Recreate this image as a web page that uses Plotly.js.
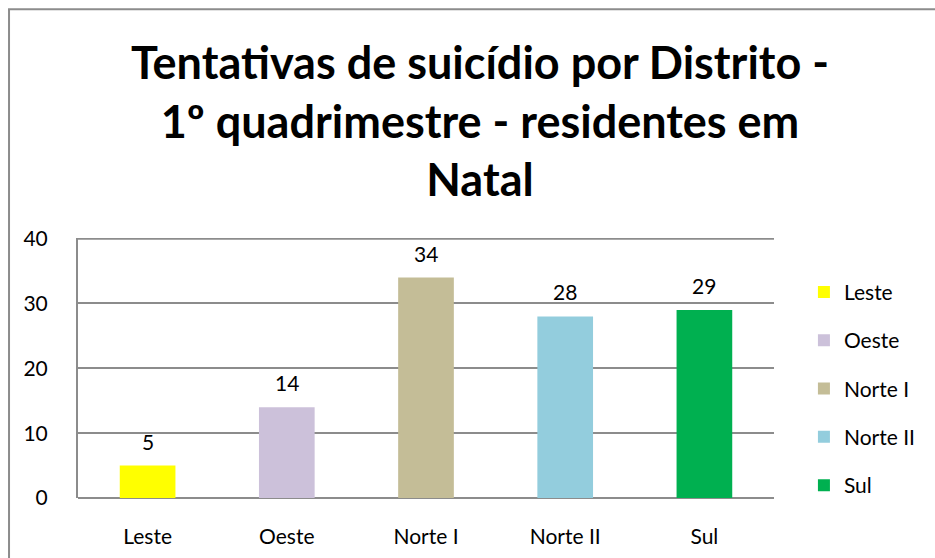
<!DOCTYPE html>
<html>
<head>
<meta charset="utf-8">
<script src="https://cdn.plot.ly/plotly-3.0.1.min.js"></script>
<style>
  body { margin: 0; background: #fff; }
  #chart { width: 935px; height: 558px; }
</style>
</head>
<body>
<div id="chart"></div>
<script>
var distritos = ["Leste", "Oeste", "Norte I", "Norte II", "Sul"];
var tentativas = [5, 14, 34, 28, 29];
var cores = ["#FFFF00", "#CCC1DA", "#C4BD97", "#93CDDD", "#00B050"];
var yTicks = [0, 10, 20, 30, 40];

var fonte = "Lato, 'Open Sans', sans-serif";
var titulo = "<b>Tentativas de suicídio por Distrito -<br>1º quadrimestre - residentes em<br>Natal</b>";

// uma trace por distrito para ter a legenda igual ao original
var traces = distritos.map(function (d, i) {
  return {
    type: "bar",
    x: [d],
    y: [tentativas[i]],
    name: d,
    legendgroup: d,
    width: 0.4,
    marker: { color: cores[i] },
    hoverinfo: "x+y"
  };
});

// rótulos de dados acima das barras
var rotulos = distritos.map(function (d, i) {
  return {
    x: d,
    y: tentativas[i],
    text: String(tentativas[i]),
    showarrow: false,
    yanchor: "bottom",
    yshift: 10,
    font: { family: fonte, size: 21, color: "#000" }
  };
});

// titulo como anotação (posição mais controlada que layout.title)
rotulos.push({
  xref: "paper",
  yref: "paper",
  x: 0.577,
  y: 1.79,
  xanchor: "center",
  yanchor: "top",
  showarrow: false,
  text: titulo,
  font: { family: fonte, size: 45, color: "#000" }
});

var layout = {
  width: 935,
  height: 558,
  margin: { l: 78, r: 161, t: 238, b: 60 },
  paper_bgcolor: "#fff",
  plot_bgcolor: "#fff",
  font: { family: fonte, size: 21, color: "#000" },
  barmode: "relative",
  showlegend: true,
  legend: {
    x: 1.043,
    xanchor: "left",
    y: 0.42,
    yanchor: "middle",
    tracegroupgap: 18,
    font: { family: fonte, size: 21, color: "#000" }
  },
  xaxis: {
    type: "category",
    categoryarray: distritos,
    showgrid: false,
    showline: false,
    ticks: "",
    ticklabelstandoff: 24,
    tickfont: { family: fonte, size: 21, color: "#000" }
  },
  yaxis: {
    range: [0, 40.1],
    tickvals: yTicks,
    ticktext: yTicks.map(String),
    showgrid: true,
    gridcolor: "#8C8C8C",
    gridwidth: 2,
    zeroline: true,
    zerolinecolor: "#8C8C8C",
    zerolinewidth: 2,
    showline: true,
    linecolor: "#8C8C8C",
    linewidth: 2,
    ticks: "",
    ticklabelstandoff: 24,
    tickfont: { family: fonte, size: 21, color: "#000" }
  },
  annotations: rotulos,
  shapes: [
    {
      // moldura do gráfico (cortada à direita e em baixo como no original)
      type: "path",
      xref: "paper",
      yref: "paper",
      path: "M -0.0991 -0.3 L -0.0991 1.880 L 1.5 1.880",
      line: { color: "#8C8C8C", width: 2 }
    },
    {
      // linha de grade do topo (40), que o plotly omite na borda
      type: "line",
      xref: "paper",
      yref: "y",
      x0: 0,
      x1: 1,
      y0: yTicks[yTicks.length - 1],
      y1: yTicks[yTicks.length - 1],
      line: { color: "#8C8C8C", width: 2 },
      layer: "below"
    }
  ]
};

Plotly.newPlot("chart", traces, layout, { displayModeBar: false, staticPlot: true });
</script>
</body>
</html>
